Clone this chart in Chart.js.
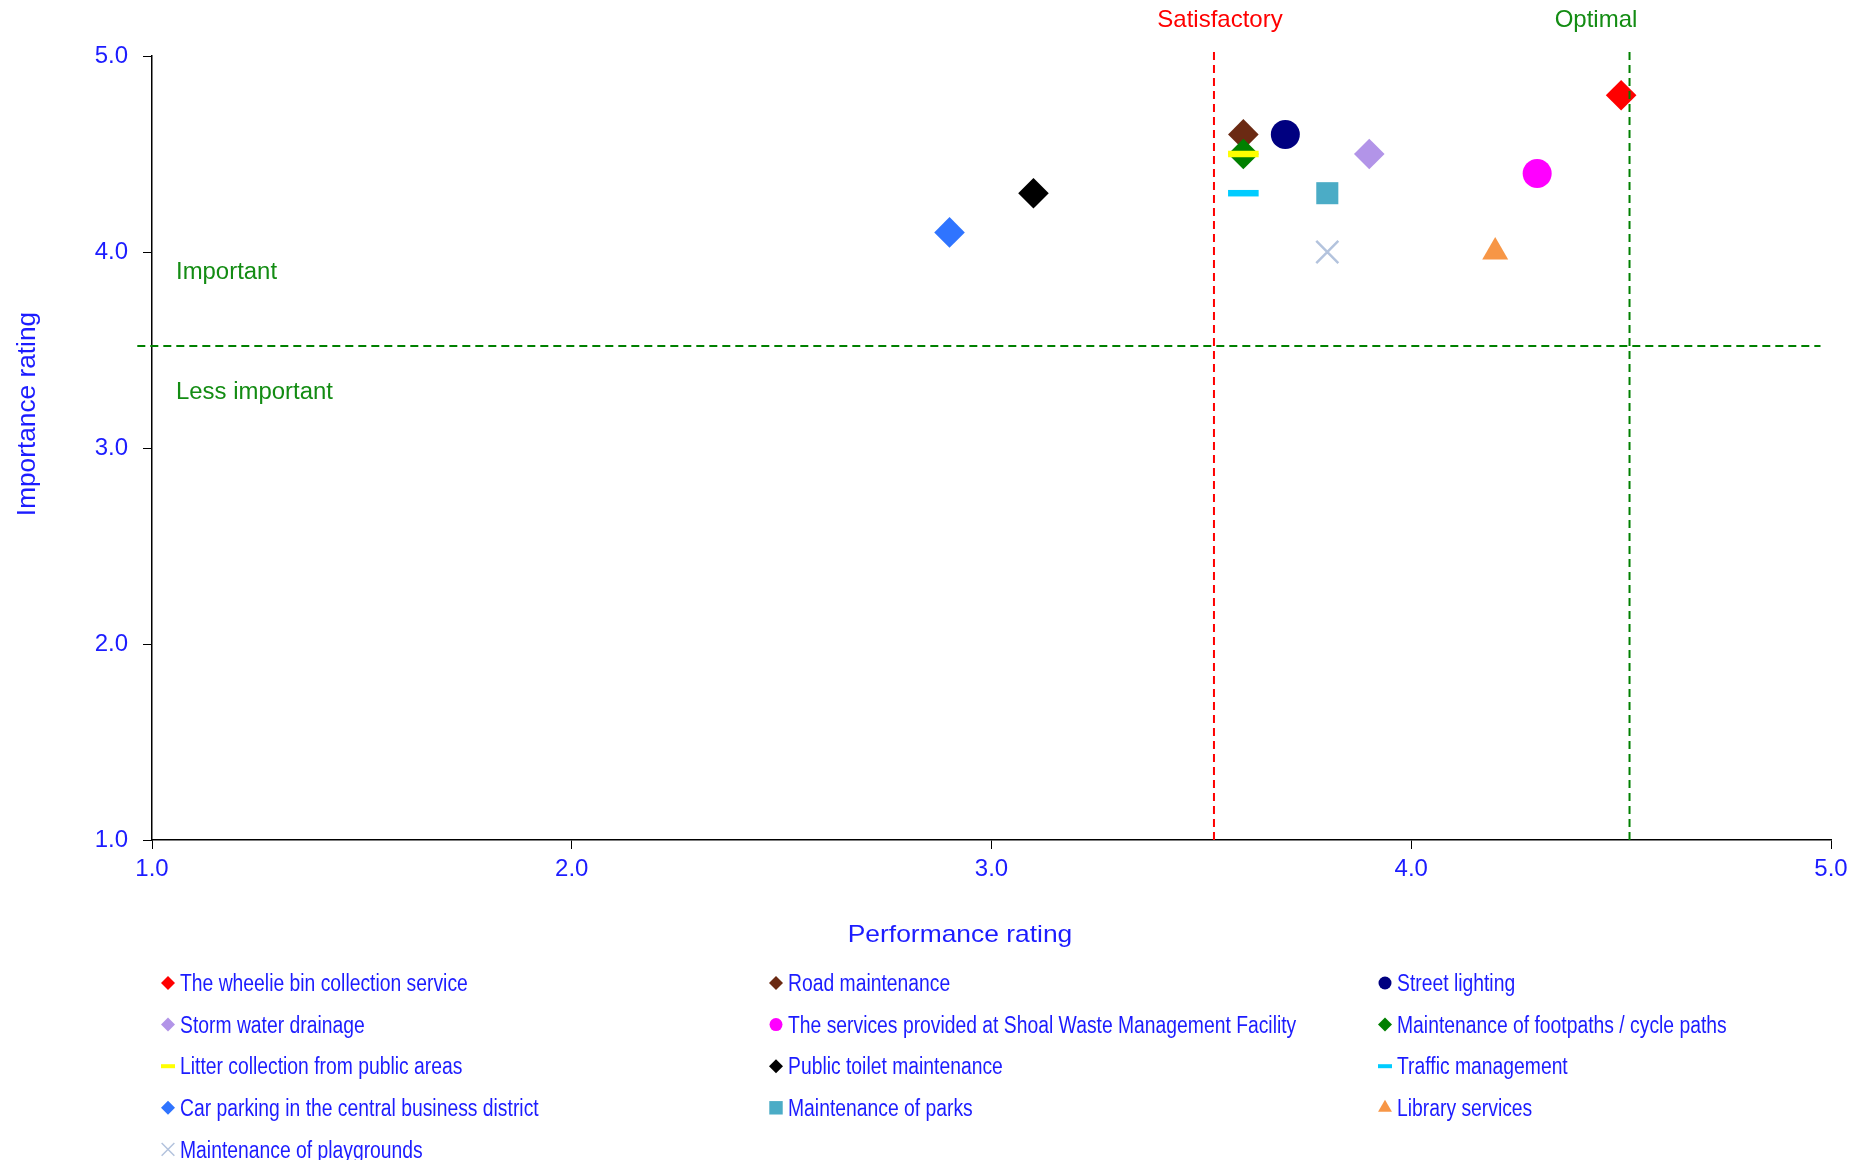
<!DOCTYPE html>
<html>
<head>
<meta charset="utf-8">
<title>Importance vs performance</title>
<script src="https://cdn.jsdelivr.net/npm/chart.js@4.4.1/dist/chart.umd.min.js"></script>
<style>
  body { margin: 0; background: #fff; }
  canvas { display: block; }
</style>
</head>
<body>
<canvas id="Matriz" width="1865" height="1160"></canvas>
<script>
// datos
const servicios = [
    'The wheelie bin collection service',
    'Road maintenance',
    'Street lighting',
    'Storm water drainage',
    'The services provided at Shoal Waste Management Facility',
    'Maintenance of footpaths / cycle paths',
    'Litter collection from public areas',
    'Public toilet maintenance',
    'Traffic management',
    'Car parking in the central business district',
    'Maintenance of parks',
    'Library services',
    'Maintenance of playgrounds'
];
const desempeno   = [4.5, 3.6, 3.7, 3.9, 4.3, 3.6, 3.6, 3.1, 3.6, 2.9, 3.8, 4.2, 3.8];
const importancia = [4.8, 4.6, 4.6, 4.5, 4.4, 4.5, 4.5, 4.3, 4.3, 4.1, 4.3, 4.0, 4.0];
const ticksEje = [1, 2, 3, 4, 5];
const umbralSatisfactorio = 3.53;
const umbralOptimo = 4.52;
const umbralImportante = 3.52;

// estilos de cada serie
const colores = ['#ff0000', '#6b2a13', '#000080', '#b294e8', '#ff00ff', '#008000', '#ffff00',
                 '#000000', '#00ccff', '#2f74ff', '#4bacc6', '#f79646', '#b3c3dd'];
const simbolos = ['rectRot', 'rectRot', 'circle', 'rectRot', 'circle', 'rectRot', 'line',
                  'rectRot', 'line', 'rectRot', 'rect', 'triangle', 'crossRot'];

const AZUL = '#1c1cff';
const VERDE = '#138c13';
const FUENTE = '"Liberation Sans", Arial, sans-serif';

function radio(s){
    if (s === 'circle') return 14.5;
    if (s === 'rect' || s === 'crossRot') return 15.6;
    if (s === 'triangle') return 15;
    return 15.3;
}
function grosor(s){
    if (s === 'line') return 6.5;
    if (s === 'crossRot') return 2.5;
    return 0;
}
function radioLeyenda(s){
    if (s === 'circle') return 6.5;
    if (s === 'rect') return 9.5;
    if (s === 'crossRot') return 9;
    if (s === 'triangle') return 8;
    return 7;
}

// texto con estiramiento horizontal
function texto(ctx, t, x, y, size, color, align, sx, rot){
    ctx.save();
    ctx.font = size + 'px ' + FUENTE;
    ctx.fillStyle = color;
    ctx.textAlign = align;
    ctx.textBaseline = 'alphabetic';
    ctx.translate(x, y);
    if (rot) ctx.rotate(rot);
    ctx.scale(sx, 1);
    ctx.fillText(t, 0, 0);
    ctx.restore();
}

const series = servicios.map((nom, i) => ({
    label: nom,
    data: [{x: desempeno[i], y: importancia[i]}],
    pointStyle: simbolos[i],
    pointRadius: radio(simbolos[i]),
    pointBorderWidth: grosor(simbolos[i]),
    backgroundColor: colores[i],
    borderColor: colores[i],
    order: -i
}));

function linea(puntos, color){
    return {
        label: '',
        data: puntos,
        showLine: true,
        borderColor: color,
        borderWidth: 2,
        borderDash: [8, 5],
        pointRadius: 0,
        clip: false,
        order: -100
    };
}
series.push(linea([{x: umbralSatisfactorio, y: 1}, {x: umbralSatisfactorio, y: 5.02}], '#ff0000'));
series.push(linea([{x: umbralOptimo, y: 1}, {x: umbralOptimo, y: 5.02}], '#008000'));
series.push(linea([{x: 0.965, y: umbralImportante}, {x: 4.975, y: umbralImportante}], '#008000'));

const extras = {
    id: 'extras',
    afterDraw(chart){
        const ctx = chart.ctx;
        texto(ctx, 'Satisfactory', 1220, 27, 24, '#ff0000', 'center', 1);
        texto(ctx, 'Optimal', 1596, 27, 24, VERDE, 'center', 1);
        texto(ctx, 'Important', 176, 279, 23, VERDE, 'left', 1.04);
        texto(ctx, 'Less important', 176, 399, 23, VERDE, 'left', 1.04);
        texto(ctx, 'Performance rating', 960, 942, 24, AZUL, 'center', 1.1);
        texto(ctx, 'Importance rating', 35, 414, 25, AZUL, 'center', 1.05, -Math.PI / 2);

        // leyenda en tres columnas
        const colX = [168, 776, 1385];
        servicios.forEach((nom, i) => {
            const x = colX[i % 3];
            const y = 983 + Math.floor(i / 3) * 41.6;
            const s = simbolos[i];
            ctx.save();
            ctx.fillStyle = colores[i];
            ctx.strokeStyle = colores[i];
            ctx.lineWidth = s === 'line' ? 4 : 1.5;
            Chart.helpers.drawPoint(ctx, {
                pointStyle: s,
                radius: radioLeyenda(s),
                rotation: 0,
                borderWidth: (s === 'line' || s === 'crossRot') ? 1 : 0
            }, x, y);
            ctx.restore();
            texto(ctx, nom, x + 12, y + 8.2, 23, AZUL, 'left', 0.84);
        });
    }
};

const ejeComun = {
    type: 'linear',
    min: 1,
    max: 5,
    afterBuildTicks: s => { s.ticks = ticksEje.map(v => ({value: v})); },
    grid: { drawOnChartArea: false, drawTicks: true, tickLength: 9, color: '#000', tickWidth: 1 },
    border: { display: true, color: '#000', width: 1.5 },
    title: { display: false }
};

const ctx = document.getElementById('Matriz');
new Chart(ctx, {
    type: 'scatter',
    data: { datasets: series },
    plugins: [extras],
    options: {
        responsive: false,
        animation: false,
        devicePixelRatio: 1,
        events: [],
        layout: { padding: { left: 0, right: 34, top: 56, bottom: 0 } },
        plugins: { legend: { display: false }, tooltip: { enabled: false } },
        scales: {
            x: Object.assign({}, ejeComun, {
                position: 'bottom',
                ticks: { color: AZUL, font: { family: FUENTE, size: 24 }, padding: 6,
                         callback: v => v.toFixed(1) },
                afterFit: s => { s.height = 320; }
            }),
            y: Object.assign({}, ejeComun, {
                position: 'left',
                ticks: { color: AZUL, font: { family: FUENTE, size: 24 }, padding: 15,
                         callback: v => v.toFixed(1) },
                afterFit: s => { s.width = 152; }
            })
        }
    }
});
</script>
</body>
</html>
